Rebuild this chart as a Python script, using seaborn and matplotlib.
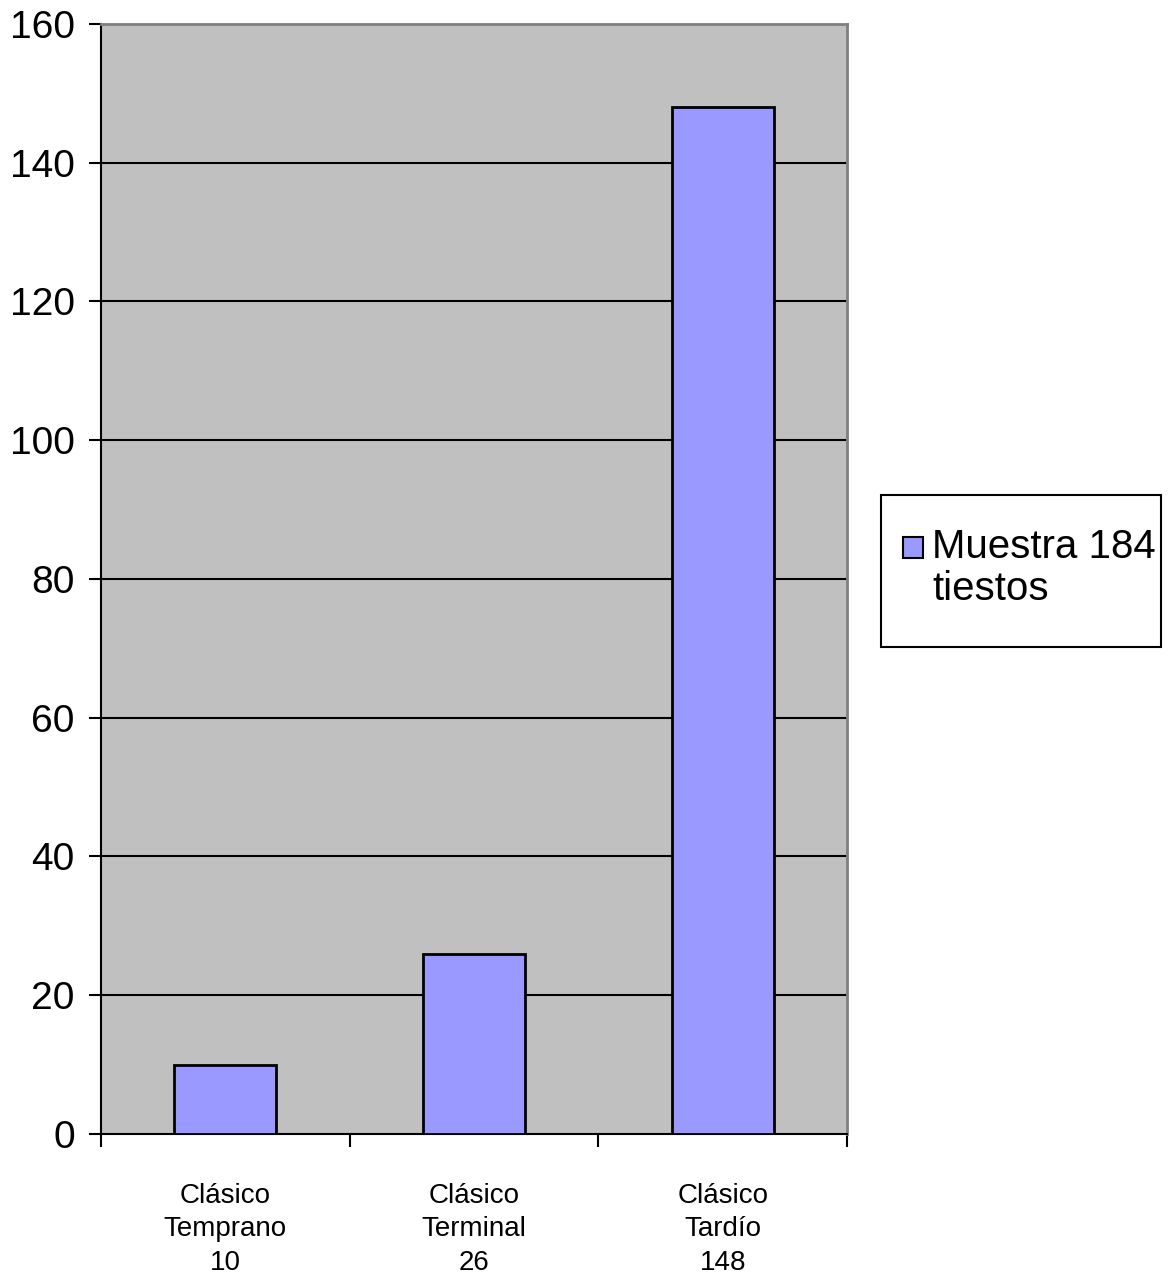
import pandas as pd
import matplotlib
matplotlib.use('Agg')
import matplotlib.pyplot as plt
import seaborn as sns
from matplotlib.patches import Rectangle

periodos = ['Clásico\nTemprano', 'Clásico\nTerminal', 'Clásico\nTardío']
tiestos = [10, 26, 148]
serie = 'Muestra 184\ntiestos'
y_ticks = [0, 20, 40, 60, 80, 100, 120, 140, 160]

df = pd.DataFrame({'periodo': periodos, 'n': tiestos})
etiquetas = [f'{p}\n{n}' for p, n in zip(periodos, tiestos)]

sns.set_style('white')
plt.rcParams['font.family'] = ['Liberation Sans', 'DejaVu Sans']
plt.rcParams['text.color'] = 'black'
plt.rcParams['xtick.color'] = 'black'
plt.rcParams['ytick.color'] = 'black'

W, H = 1171, 1276
fig = plt.figure(figsize=(W / 100, H / 100), dpi=100)
ax = fig.add_axes([0.0863, 0.1113, 0.637, 0.8699])
ax.set_facecolor('#C0C0C0')

sns.barplot(data=df, x='periodo', y='n', color='#9999FF', saturation=1,
            width=0.41, edgecolor='black', linewidth=2, ax=ax, zorder=3)

ax.set_ylim(0, 160)
ax.set_xlim(-0.5, 2.5)
ax.set_yticks(y_ticks)
ax.set_yticklabels([str(v) for v in y_ticks], fontsize=28)
for v in y_ticks[1:]:
    ax.axhline(v, color='black', linewidth=1.5, zorder=1)

ax.set_xticks([-0.5, 0.5, 1.5, 2.5])
ax.set_xticklabels([])
ax.set_xticks([0, 1, 2], minor=True)
ax.set_xticklabels(etiquetas, minor=True, fontsize=20, linespacing=1.38)
ax.tick_params(axis='x', which='major', direction='out', length=9, width=1.5,
               bottom=True)
ax.tick_params(axis='x', which='minor', length=0, pad=35)
ax.tick_params(axis='y', direction='out', length=9, width=1.5, left=True,
               pad=10)
ax.set_xlabel('')
ax.set_ylabel('')

for s in ['left', 'bottom']:
    ax.spines[s].set_color('black')
    ax.spines[s].set_linewidth(1.5)
for s in ['top', 'right']:
    ax.spines[s].set_visible(True)
    ax.spines[s].set_color('#808080')
    ax.spines[s].set_linewidth(2)

# legend box drawn by hand so it matches the original layout
fig.patches.append(Rectangle((881 / W, 1 - 647 / H), 280 / W, 152 / H,
                             transform=fig.transFigure, facecolor='white',
                             edgecolor='black', linewidth=1.5))
fig.patches.append(Rectangle((903 / W, 1 - 558 / H), 20 / W, 21 / H,
                             transform=fig.transFigure, facecolor='#9999FF',
                             edgecolor='black', linewidth=1.5))
fig.text(932 / W, 1 - 528 / H, serie, fontsize=29, va='top', ha='left',
         linespacing=1.15)

fig.savefig('out.png', dpi=100)
